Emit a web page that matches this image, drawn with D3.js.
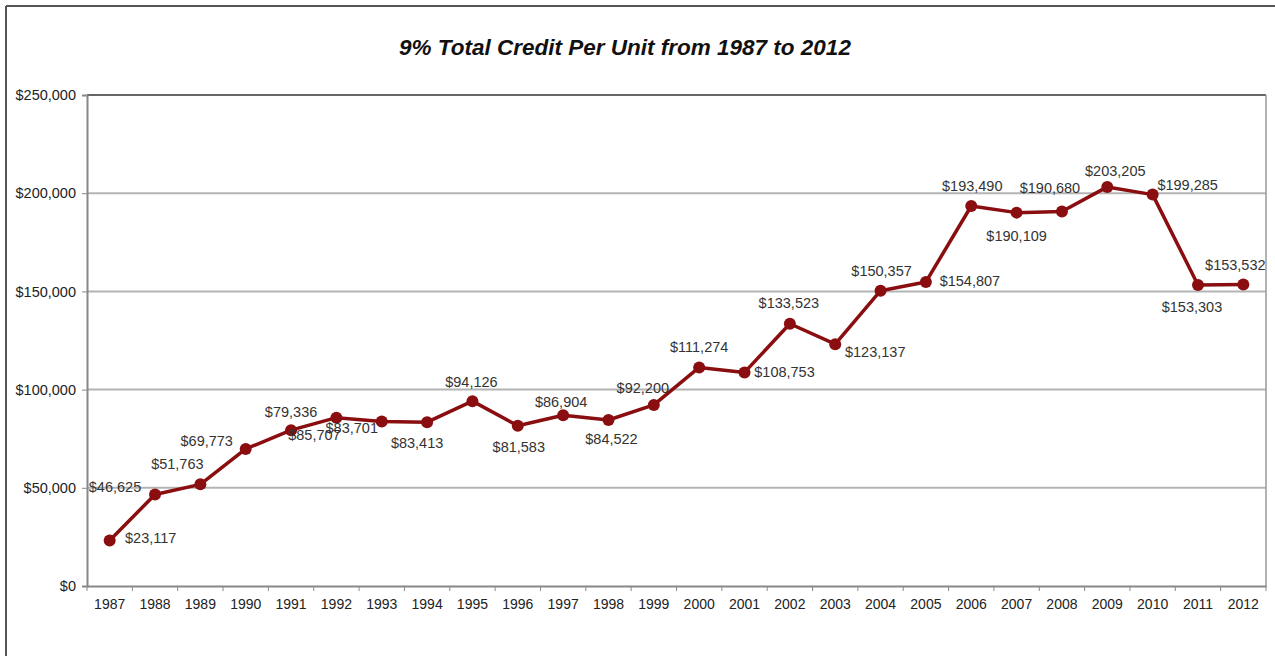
<!DOCTYPE html>
<html>
<head>
<meta charset="utf-8">
<script src="https://cdn.jsdelivr.net/npm/d3@7"></script>
<style>
  html, body { margin: 0; padding: 0; background: #fff; }
  svg { display: block; }
</style>
</head>
<body>
<svg id="chart" width="1275" height="656"></svg>
<script>
// ---- data ----
const years = ["1987","1988","1989","1990","1991","1992","1993","1994","1995","1996","1997","1998","1999",
               "2000","2001","2002","2003","2004","2005","2006","2007","2008","2009","2010","2011","2012"];
const credit = [23117, 46625, 51763, 69773, 79336, 85707, 83701, 83413, 94126, 81583, 86904, 84522, 92200,
                111274, 108753, 133523, 123137, 150357, 154807, 193490, 190109, 190680, 203205, 199285, 153303, 153532];
const yTicks = [0, 50000, 100000, 150000, 200000, 250000];
const titleText = "9% Total Credit Per Unit from 1987 to 2012";

// ---- label placement (styling) ----
const labelOffsets = [
  [41,-3],[-40,-7],[-23,-20],[-39,-8],[0,-18],[-22,17],[-30,6],[-10,21],[-1,-19],[1,21],[-2,-13],[3,19],[-11,-17],
  [0,-20],[40,0],[-1,-21],[40,8],[1,-20],[44,-1],[1,-20],[0,23],[-12,-24],[8,-16],[35,-10],[-6,22],[-8,-19]
];

(function () {
const svg = d3.select("#chart");
const font = "'Liberation Sans', Arial, sans-serif";
const pL = 87, pR = 1266, pT = 95, pB = 586;

// outer frame
svg.append("line").attr("x1", 6).attr("x2", 1275).attr("y1", 6).attr("y2", 6)
  .attr("stroke", "#555").attr("stroke-width", 2);
svg.append("line").attr("x1", 6).attr("x2", 6).attr("y1", 6).attr("y2", 656)
  .attr("stroke", "#555").attr("stroke-width", 2);

const x = d3.scaleBand().domain(years).range([pL, pR]).padding(0);
const y = d3.scaleLinear().domain([0, 250000]).range([pB, pT]);

// gridlines
svg.append("g").selectAll("line").data(yTicks.filter(d => d > 0)).join("line")
  .attr("x1", pL).attr("x2", pR)
  .attr("y1", d => y(d)).attr("y2", d => y(d))
  .attr("stroke", d => d === 250000 ? "#666" : "#b4b4b4").attr("stroke-width", 2);

// right border
svg.append("line").attr("x1", pR).attr("x2", pR).attr("y1", pT).attr("y2", pB)
  .attr("stroke", "#999").attr("stroke-width", 1.5);

// y axis
const yAxis = svg.append("g").attr("transform", `translate(${pL},0)`)
  .call(d3.axisLeft(y).tickValues(yTicks).tickSize(5).tickPadding(6)
    .tickFormat(d => "$" + d3.format(",")(d)));
yAxis.select(".domain").attr("stroke", "#888").attr("stroke-width", 2);
yAxis.selectAll(".tick line").attr("stroke", "#888");
yAxis.selectAll("text").attr("font-family", font).attr("font-size", "14.5px").attr("fill", "#222");

// x axis
const xAxis = svg.append("g").attr("transform", `translate(0,${pB})`)
  .call(d3.axisBottom(x).tickSize(0).tickPadding(13));
xAxis.select(".domain").attr("stroke", "#888").attr("stroke-width", 2);
xAxis.selectAll("text").attr("font-family", font).attr("font-size", "14px").attr("fill", "#222");
// boundary ticks
svg.append("g").selectAll("line").data(d3.range(years.length + 1)).join("line")
  .attr("x1", i => pL + i * x.step()).attr("x2", i => pL + i * x.step())
  .attr("y1", pB).attr("y2", pB + 5)
  .attr("stroke", "#888").attr("stroke-width", 1);

// title
svg.append("text").attr("x", 625).attr("y", 47).attr("text-anchor", "middle")
  .attr("dominant-baseline", "central")
  .attr("font-family", font).attr("font-size", "22.5px").attr("font-weight", "bold")
  .attr("font-style", "italic").attr("fill", "#111").text(titleText);

// line
const pts = years.map((yr, i) => ({ yr, v: credit[i], i }));
const cx = d => x(d.yr) + x.bandwidth() / 2;
svg.append("path").datum(pts)
  .attr("d", d3.line().x(cx).y(d => y(d.v)))
  .attr("fill", "none").attr("stroke", "#8a0e10").attr("stroke-width", 3.5)
  .attr("stroke-linejoin", "round");
svg.append("g").selectAll("circle").data(pts).join("circle")
  .attr("cx", cx).attr("cy", d => y(d.v)).attr("r", 6)
  .attr("fill", "#8a0e10");

// labels
svg.append("g").selectAll("text").data(pts).join("text")
  .attr("x", d => cx(d) + labelOffsets[d.i][0])
  .attr("y", d => y(d.v) + labelOffsets[d.i][1])
  .attr("text-anchor", "middle").attr("dominant-baseline", "central")
  .attr("font-family", font).attr("font-size", "14.5px").attr("fill", "#333")
  .text(d => "$" + d3.format(",")(d.v));
})();
</script>
</body>
</html>
